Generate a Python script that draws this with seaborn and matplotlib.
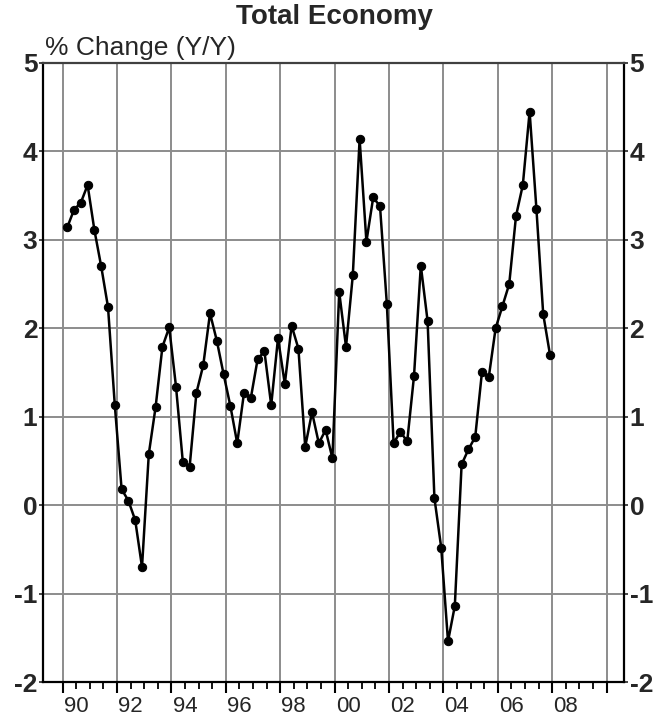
import numpy as np
import pandas as pd
import matplotlib
matplotlib.use("Agg")
import matplotlib.pyplot as plt
import seaborn as sns

years = list(range(1990, 2008))
quarters = [1, 2, 3, 4]
values = [
    3.14, 3.34, 3.42, 3.62,
    3.11, 2.70, 2.24, 1.13,
    0.18, 0.05, -0.17, -0.70,
    0.58, 1.11, 1.79, 2.01,
    1.34, 0.49, 0.43, 1.27,
    1.58, 2.17, 1.86, 1.48,
    1.12, 0.70, 1.27, 1.21,
    1.65, 1.74, 1.13, 1.89,
    1.37, 2.03, 1.77, 0.66,
    1.05, 0.70, 0.85, 0.53,
    2.41, 1.79, 2.60, 4.14,
    2.98, 3.48, 3.38, 2.28,
    0.70, 0.83, 0.72, 1.46,
    2.71, 2.08, 0.08, -0.48,
    -1.54, -1.14, 0.46, 0.63,
    0.77, 1.51, 1.45, 2.00,
    2.25, 2.50, 3.27, 3.62,
    4.45, 3.35, 2.16, 1.70,
]
ytick_vals = [-2, -1, 0, 1, 2, 3, 4, 5]
xlabel_years = list(range(1990, 2010, 2))
xtick_labels = ["90", "92", "94", "96", "98", "00", "02", "04", "06", "08"]
title = "Total Economy"
ylabel = "% Change (Y/Y)"

# quarterly positions (mid-quarter)
t = [y + (q - 1) / 4 + 0.17 for y in years for q in quarters]
df = pd.DataFrame({"t": t, "v": values})

sns.set_style("white")
plt.rcParams["font.family"] = ["Liberation Sans", "DejaVu Sans"]

fig = plt.figure(figsize=(6.54, 7.22), dpi=100)
ax = fig.add_axes([43 / 654, 40 / 722, 581 / 654, 619 / 722])

sns.lineplot(data=df, x="t", y="v", ax=ax, color="black", linewidth=1.8,
             marker="o", markersize=6, markeredgecolor="black",
             markerfacecolor="black", zorder=3)

ax.set_xlim(1989.28, 2010.64)
ax.set_ylim(-2, 5)

# gridlines
for yy in ytick_vals[1:-1]:
    ax.axhline(yy, color="#8c8c8c", linewidth=1.4, zorder=1)
for xx in range(1990, 2011, 2):
    ax.axvline(xx, color="#8c8c8c", linewidth=1.4, zorder=1)

# x ticks: majors at even years, minors at half years with labels centered
ax.set_xticks(list(range(1990, 2011, 2)))
ax.set_xticklabels([])
minor_pos = []
minor_lab = []
lab_map = {y + 0.5: l for y, l in zip(xlabel_years, xtick_labels)}
for k in range(1, 40):
    p = 1990 + 0.5 * k
    if p % 2 == 0:
        continue
    minor_pos.append(p)
    minor_lab.append(lab_map.get(p, ""))
ax.set_xticks(minor_pos, minor=True)
ax.set_xticklabels(minor_lab, minor=True)
ax.tick_params(axis="x", which="major", direction="out", length=8, width=1.5,
               color="black", bottom=True)
ax.tick_params(axis="x", which="minor", direction="out", length=5, width=1.3,
               color="black", bottom=True, labelsize=16, pad=5)

ax.set_yticks(ytick_vals)
ax.set_yticklabels([str(v) for v in ytick_vals])
ax.tick_params(axis="y", which="major", length=3, width=1.2, left=True,
               right=True, labelleft=True, labelright=True, labelsize=19,
               pad=1)
for lab in ax.get_yticklabels():
    lab.set_fontweight("bold")

for s in ax.spines.values():
    s.set_visible(True)
    s.set_color("black")
    s.set_linewidth(1.6)
ax.spines["top"].set_color("#404040")

ax.set_xlabel("")
ax.set_ylabel("")

fig.text(334, 722 - 24, title, transform=None, ha="center",
         va="baseline", fontsize=20, fontweight="bold")
fig.text(45, 722 - 55, ylabel, transform=None, ha="left", va="baseline",
         fontsize=19)

fig.savefig("out.png", dpi=100)
